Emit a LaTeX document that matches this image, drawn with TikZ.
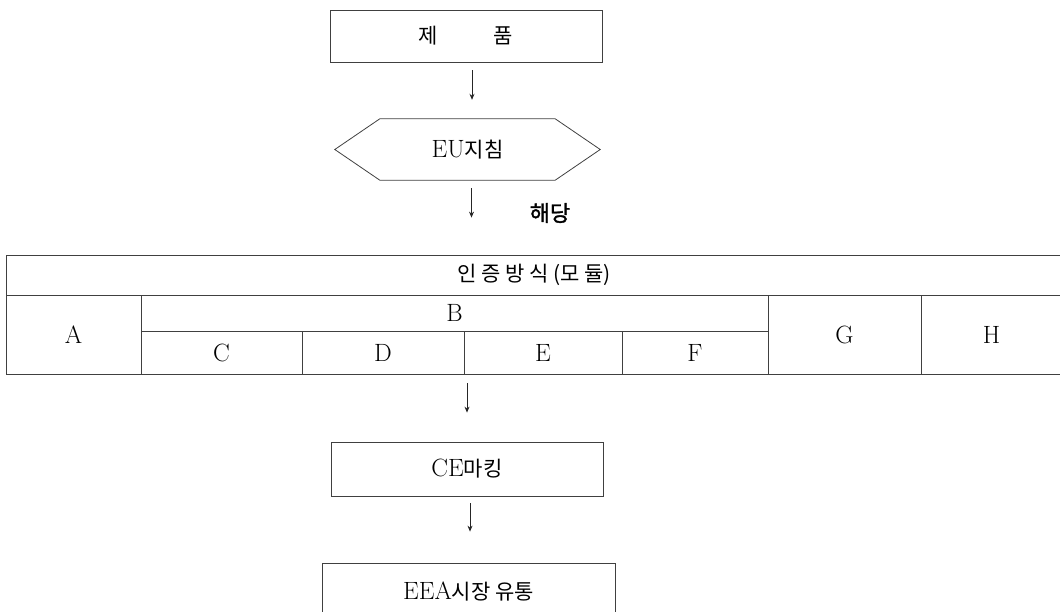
\documentclass[tikz,border=0pt]{standalone}
\usepackage{fontspec}
\newfontfamily\kr{Noto Sans CJK KR}[Scale=0.84]
\newfontfamily\krb{Noto Sans CJK KR}[AutoFakeBold=1.6]
\usetikzlibrary{arrows.meta}
\tikzset{
  box/.style={draw=black!75, line width=0.8pt, inner sep=0pt, font=\fontsize{25}{29}\selectfont},
  cell/.style={draw=black!75, line width=0.8pt, inner sep=0pt, font=\fontsize{25}{29}\selectfont},
  plain/.style={inner sep=0pt, font=\fontsize{25}{29}\selectfont},
  arr/.style={draw=black!85, line width=0.8pt, -{Stealth[length=6pt,width=5pt]}}
}
\begin{document}
\begin{tikzpicture}[x=1pt,y=-1pt]
\useasboundingbox (0,0) rectangle (1060,612);
% top box
\node[box, minimum width=272pt, minimum height=52pt] (prod) at (466,36) {\kr 제\hspace{56pt}품};
% hexagon
\node[plain, minimum width=265pt, minimum height=61pt] (eu) at (467.5,149.5) {EU{\kr 지침}};
\draw[black!75, line width=0.8pt] (eu.west) -- ([xshift=45pt]eu.north west) -- ([xshift=-45pt]eu.north east)
  -- (eu.east) -- ([xshift=-45pt]eu.south east) -- ([xshift=45pt]eu.south west) -- cycle;
\node[plain, font=\fontsize{22}{26}\selectfont] (hd) at (550,213) {\krb\bfseries 해당};
% table
\node[cell, minimum width=1056pt, minimum height=40pt] (title) at (534,275) {\kr 인 증 방 식 (모 듈)};
\node[cell, minimum width=135pt, minimum height=79pt] (A) at (73.5,334.5) {A};
\node[cell, minimum width=627pt, minimum height=36pt] (B) at (454.5,313) {B};
\node[cell, minimum width=161pt, minimum height=43pt] (C) at (221.5,352.5) {C};
\node[cell, minimum width=162pt, minimum height=43pt] (D) at (383,352.5) {D};
\node[cell, minimum width=158pt, minimum height=43pt] (E) at (543,352.5) {E};
\node[cell, minimum width=146pt, minimum height=43pt] (F) at (695,352.5) {F};
\node[cell, minimum width=153pt, minimum height=79pt] (G) at (844.5,334.5) {G};
\node[cell, minimum width=141pt, minimum height=79pt] (H) at (991.5,334.5) {H};
% lower boxes
\node[box, minimum width=272pt, minimum height=54pt] (ce) at (467,469) {CE{\kr 마킹}};
\node[box, minimum width=293pt, minimum height=57pt] (eea) at (468.5,591.5) {EEA{\kr 시장 유통}};
% arrows
\draw[arr, shorten <=8pt, shorten >=19pt] ([xshift=6pt]prod.south) -- ([xshift=6pt]prod.south |- eu.north);
\draw[arr, shorten <=8pt, shorten >=37pt] ([xshift=4pt]eu.south) -- ([xshift=4pt]eu.south |- title.north);
\draw[arr, shorten <=9pt, shorten >=29pt] (ce.north |- A.south) -- (ce.north);
\draw[arr, shorten <=7pt, shorten >=31pt] ([xshift=3pt]ce.south) -- ([xshift=3pt]ce.south |- eea.north);
\end{tikzpicture}
\end{document}
